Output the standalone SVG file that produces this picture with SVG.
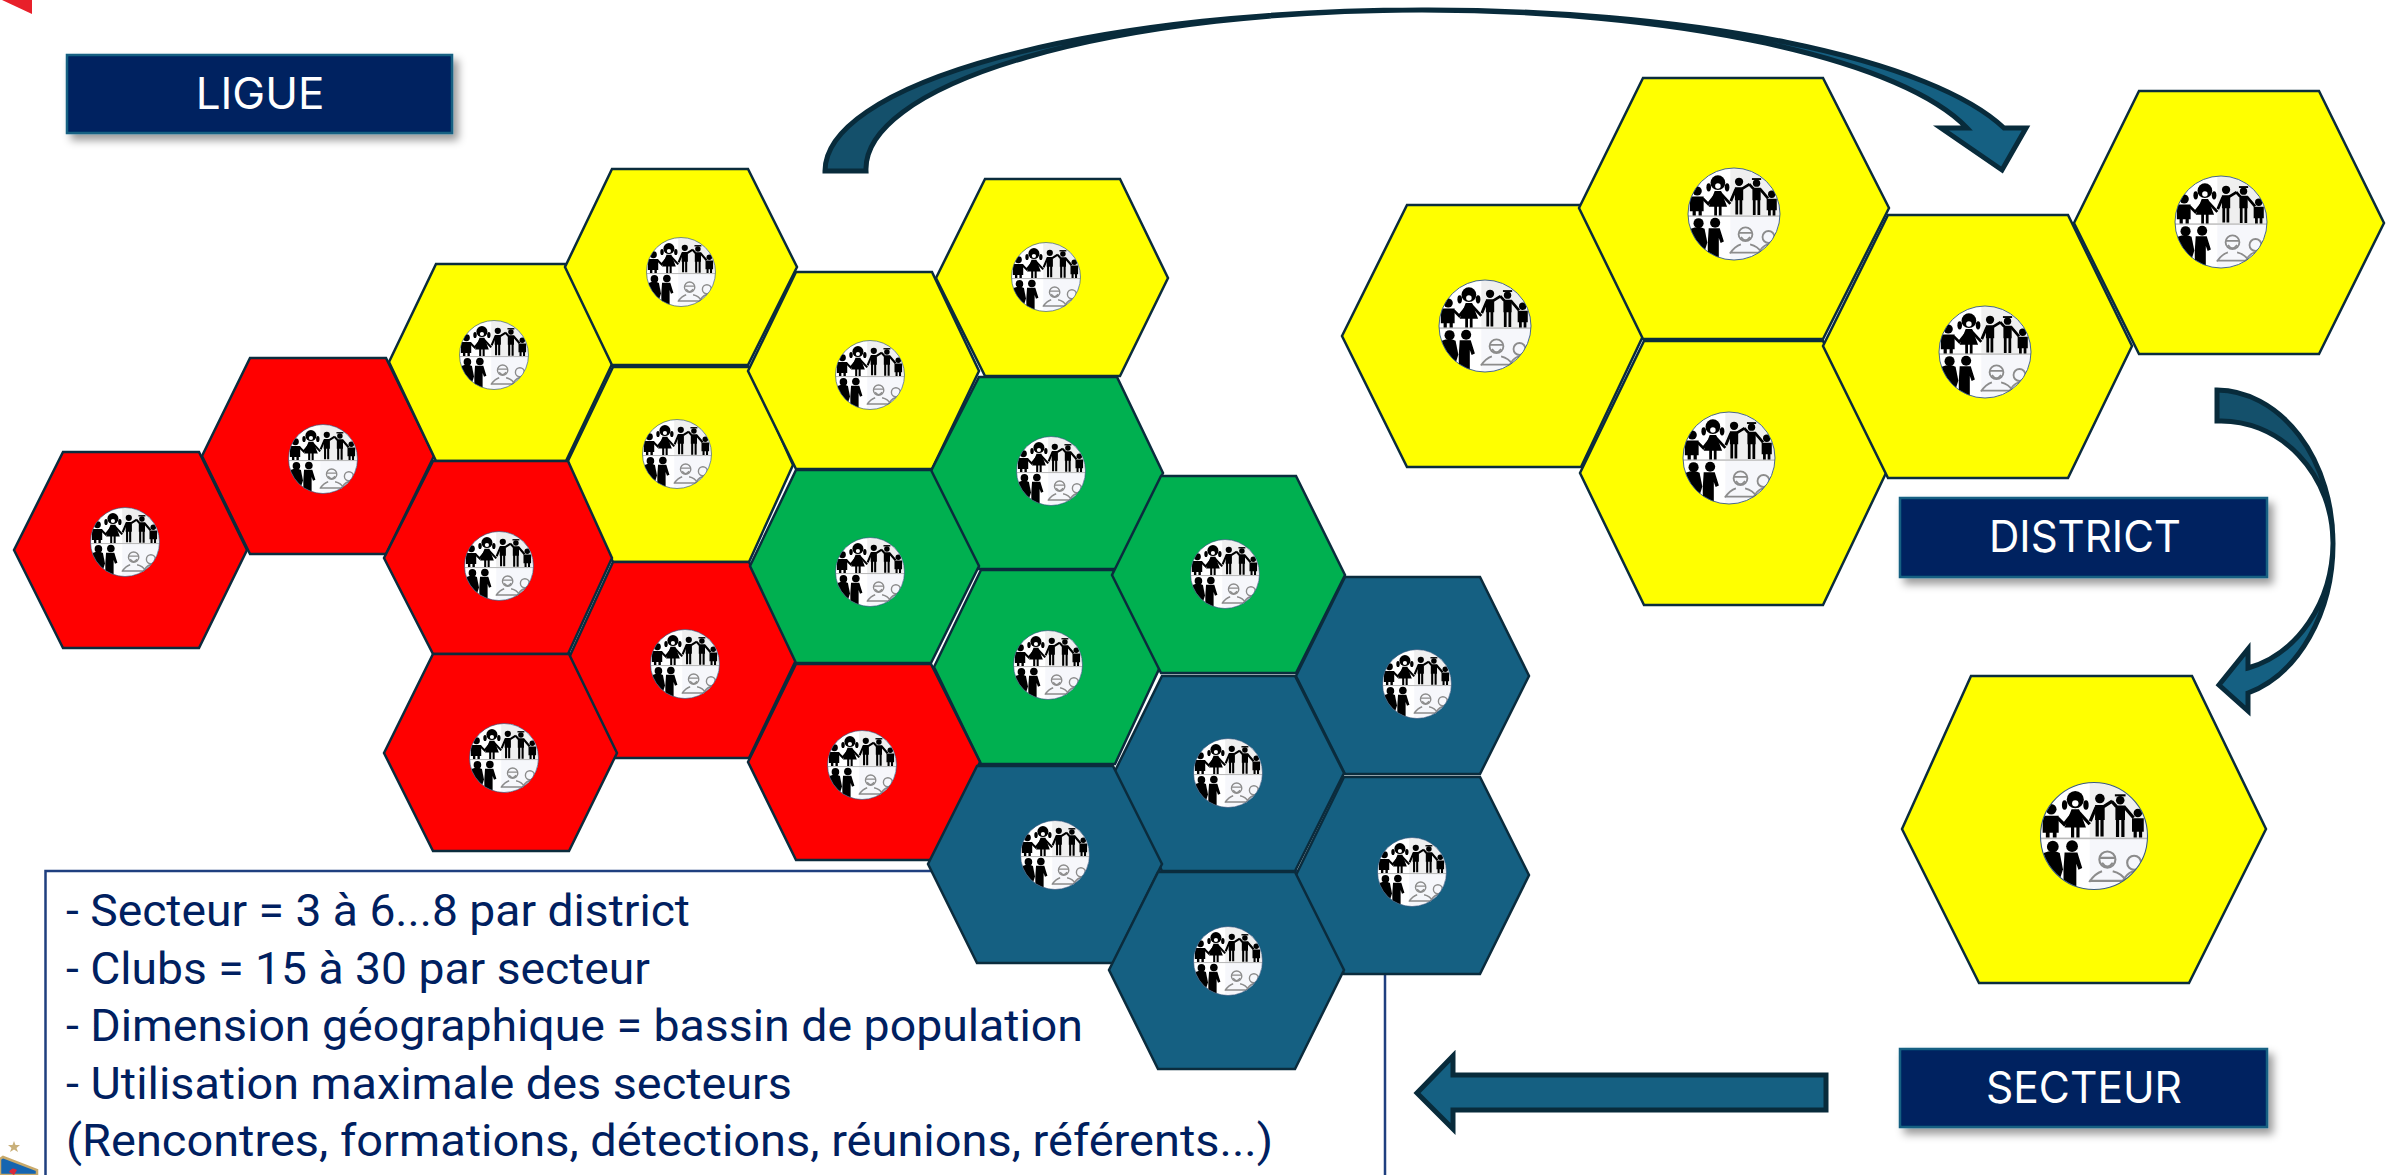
<svg xmlns="http://www.w3.org/2000/svg" width="2394" height="1175" viewBox="0 0 2394 1175">
<style>
.hex{stroke:#0b2c3d;stroke-width:2.500;stroke-linejoin:miter}
.r{fill:#ff0000}.y{fill:#ffff00}.g{fill:#00b050}.b{fill:#156082}
.lab{fill:#002060;stroke:#156082;stroke-width:2.500;filter:url(#sh)}
.lt{font-family:Inter,"Liberation Sans",sans-serif;font-size:44px;fill:#fff;text-anchor:middle}
.body{font-family:Roboto,"Liberation Sans",sans-serif;font-size:45px;fill:#002060}
.arr{stroke:#082b3b;stroke-width:5;stroke-linejoin:miter}
.k{fill:#000}.kl{stroke:#000;stroke-width:6;fill:none}
.gl{stroke:#8c8c8c;stroke-width:4;fill:none}
</style>
<defs>
<filter id="sh" x="-10%" y="-20%" width="125%" height="150%"><feDropShadow dx="5" dy="6" stdDeviation="4" flood-color="#000" flood-opacity="0.4"/></filter>
<clipPath id="c"><circle r="100"/></clipPath>
<g id="icon">
<g clip-path="url(#c)">
<rect x="-100" y="-100" width="200" height="200" fill="#fff"/>
<rect x="-8" y="-100" width="108" height="103" fill="#efefef"/>
<rect x="-8" y="6" width="108" height="94" fill="#f6f7fb"/>
<rect x="-100" y="3" width="200" height="3" fill="#b9b9b9"/>
<circle class="k" cx="-80" cy="-50" r="10"/>
<path class="k" d="M-96,-38H-66V-6H-70V3H-77V-6H-83V3H-90V-6H-96Z"/>
<path class="kl" d="M-68,-34L-56,-22L-40,-42"/>
<circle class="k" cx="-35" cy="-68" r="16"/>
<ellipse cx="-35" cy="-61" rx="6" ry="6" fill="#fff"/>
<ellipse class="k" cx="-55" cy="-58" rx="5" ry="9"/>
<ellipse class="k" cx="-15" cy="-58" rx="5" ry="9"/>
<path class="k" d="M-42,-50H-28L-15,-16H-27V3H-33V-16H-37V3H-43V-16H-55Z"/>
<path class="kl" d="M-30,-46L-8,-22"/>
<circle class="k" cx="11" cy="-70" r="9"/>
<path class="k" d="M2,-58H20V-30H18V1H12V-30H9V1H3V-30H2Z"/>
<path class="kl" d="M4,-54L-7,-28M18,-55L34,-65"/>
<circle class="k" cx="49" cy="-67" r="8"/>
<rect class="k" x="39" y="-78" width="20" height="4"/>
<path class="k" d="M40,-57H58V-30H57V2H51V-30H47V2H41V-30H40Z"/>
<path class="kl" d="M42,-55L33,-65M56,-55L74,-34"/>
<circle class="k" cx="82" cy="-43" r="8"/>
<path class="k" d="M71,-33H93V-8H90V3H84V-8H80V3H74V-8H71Z"/>
<circle class="k" cx="-77" cy="20" r="11"/>
<path class="k" d="M-94,32Q-77,24 -64,32L-58,62L-66,88L-82,84L-88,64Z"/>
<circle class="k" cx="-41" cy="19" r="11"/>
<path class="k" d="M-55,31H-31L-22,60L-29,63L-33,52V100H-57V62Z"/>
<circle class="gl" cx="25" cy="44" r="15"/>
<path class="gl" d="M11,41H39M15,50Q25,64 35,50M-9,86Q2,70 15,66M35,66Q52,70 60,84H-9"/>
<circle class="gl" cx="75" cy="50" r="13"/>
<path class="gl" d="M52,88Q60,70 73,66Q88,66 96,74"/>
</g>
<circle r="100" fill="none" stroke="#3a5a80" stroke-width="2"/>
</g>
</defs>
<rect width="2394" height="1175" fill="#fff"/>
<polygon points="2,0 32,14 32,0" fill="#e8202a"/>
<g id="logo">
<polygon points="14,1141 15.500,1145 20,1145 16.500,1148 18,1152 14,1149.500 10,1152 11.500,1148 8,1145 12.500,1145" fill="#c9b07a"/>
<path d="M0,1159L3,1157L37,1170V1175H0Z" fill="#1565b0" stroke="#c8a96a" stroke-width="2.500"/>
<path d="M9,1172Q12,1166 17,1170L14,1175Z" fill="#d8283a"/>
</g>
<g id="info-box">
<path d="M45.500,1175V871H1385V1175" fill="none" stroke="#1f3f7f" stroke-width="2.500"/>
</g>
<g id="secteur-text" class="body">
<text x="66" y="926" textLength="624" lengthAdjust="spacingAndGlyphs">- Secteur = 3 à 6...8 par district</text>
<text x="66" y="984" textLength="584" lengthAdjust="spacingAndGlyphs">- Clubs = 15 à 30 par secteur</text>
<text x="66" y="1041" textLength="1017" lengthAdjust="spacingAndGlyphs">- Dimension géographique = bassin de population</text>
<text x="66" y="1099" textLength="726" lengthAdjust="spacingAndGlyphs">- Utilisation maximale des secteurs</text>
<text x="66" y="1156" textLength="1207" lengthAdjust="spacingAndGlyphs">(Rencontres, formations, détections, réunions, référents...)</text>
</g>
<g id="ligue-hexes">
<g id="r1"><polygon class="hex r" points="14,550 63,452 199,452 247,550 199,648 63,648"/><use href="#icon" transform="translate(125,542) scale(.345)"/></g>
<g id="r2"><polygon class="hex r" points="202,456 250,358 386,358 434,456 386,554 250,554"/><use href="#icon" transform="translate(323,459) scale(.345)"/></g>
<g id="y1"><polygon class="hex y" points="389,362 436,264 565,264 613,362 566,461 436,461"/><use href="#icon" transform="translate(494,355) scale(.345)"/></g>
<g id="y2"><polygon class="hex y" points="565,267 612,169 748,169 797,267 748,365 612,365"/><use href="#icon" transform="translate(681,272) scale(.345)"/></g>
<g id="y3"><polygon class="hex y" points="566,465 613,367 749,367 793,465 749,562 613,562"/><use href="#icon" transform="translate(677,454) scale(.345)"/></g>
<g id="r3"><polygon class="hex r" points="384,558 433,461 568,461 612,558 568,654 433,654"/><use href="#icon" transform="translate(499,566) scale(.345)"/></g>
<g id="r4"><polygon class="hex r" points="568,660 613,562 749,562 796,660 749,758 613,758"/><use href="#icon" transform="translate(685,664) scale(.345)"/></g>
<g id="r5"><polygon class="hex r" points="384,753 433,654 569,654 617,753 569,851 433,851"/><use href="#icon" transform="translate(504,758) scale(.345)"/></g>
<g id="y4"><polygon class="hex y" points="748,371 796,272 932,272 979,371 932,469 796,469"/><use href="#icon" transform="translate(870,375) scale(.345)"/></g>
<g id="y5"><polygon class="hex y" points="936,278 985,179 1120,179 1168,278 1120,376 985,376"/><use href="#icon" transform="translate(1046,277) scale(.345)"/></g>
<g id="g1"><polygon class="hex g" points="930,473 979,377 1117,377 1163,473 1117,569 979,569"/><use href="#icon" transform="translate(1051,471) scale(.345)"/></g>
<g id="g2"><polygon class="hex g" points="750,566 796,470 931,470 979,566 931,663 796,663"/><use href="#icon" transform="translate(870,572) scale(.345)"/></g>
<g id="g3"><polygon class="hex g" points="934,667 981,570 1113,570 1160,667 1115,764 981,764"/><use href="#icon" transform="translate(1048,665) scale(.345)"/></g>
<g id="g4"><polygon class="hex g" points="1112,575 1161,476 1296,476 1345,575 1296,673 1161,673"/><use href="#icon" transform="translate(1225,574) scale(.345)"/></g>
<g id="r6"><polygon class="hex r" points="748,762 796,664 931,664 980,762 931,860 796,860"/><use href="#icon" transform="translate(862,765) scale(.345)"/></g>
<g id="b1"><polygon class="hex b" points="1296,676 1345,577 1480,577 1529,676 1480,774 1345,774"/><use href="#icon" transform="translate(1417,684) scale(.345)"/></g>
<g id="b2"><polygon class="hex b" points="1114,773 1162,676 1295,676 1344,773 1295,871 1162,871"/><use href="#icon" transform="translate(1228,773) scale(.345)"/></g>
<g id="b3"><polygon class="hex b" points="928,864 977,766 1113,766 1162,864 1113,963 977,963"/><use href="#icon" transform="translate(1055,855) scale(.345)"/></g>
<g id="b4"><polygon class="hex b" points="1296,875 1344,777 1480,777 1529,875 1480,974 1344,974"/><use href="#icon" transform="translate(1412,872) scale(.345)"/></g>
<g id="b5"><polygon class="hex b" points="1109,970 1158,872 1295,872 1344,970 1295,1069 1158,1069"/><use href="#icon" transform="translate(1228,961) scale(.345)"/></g>
</g>
<g id="district-hexes">
<g id="d1"><polygon class="hex y" points="1342,336 1407,205 1581,205 1643,336 1581,467 1407,467"/><use href="#icon" transform="translate(1485,326) scale(.46)"/></g>
<g id="d2"><polygon class="hex y" points="1579,208 1643,78 1823,78 1889,208 1823,339 1643,339"/><use href="#icon" transform="translate(1734,214) scale(.46)"/></g>
<g id="d3"><polygon class="hex y" points="1580,473 1644,341 1823,341 1886,473 1823,605 1644,605"/><use href="#icon" transform="translate(1729,458) scale(.46)"/></g>
<g id="d4"><polygon class="hex y" points="1823,346 1888,215 2068,215 2132,346 2068,478 1888,478"/><use href="#icon" transform="translate(1985,352) scale(.46)"/></g>
<g id="d5"><polygon class="hex y" points="2074,223 2139,91 2319,91 2384,223 2319,354 2139,354"/><use href="#icon" transform="translate(2221,222) scale(.46)"/></g>
</g>
<g id="secteur-hex"><polygon class="hex y" points="1902,829 1971,676 2192,676 2266,829 2189,983 1979,983"/><use href="#icon" transform="translate(2094,836) scale(.535)"/></g>
<g id="ligue"><rect class="lab" x="67" y="55" width="385" height="78"/><text class="lt" x="260" y="109">LIGUE</text></g>
<g id="district"><rect class="lab" x="1900" y="498" width="367" height="79"/><text class="lt" x="2085" y="552" textLength="192" lengthAdjust="spacingAndGlyphs">DISTRICT</text></g>
<g id="secteur"><rect class="lab" x="1900" y="1049" width="367" height="78"/><text class="lt" x="2084" y="1103" textLength="196" lengthAdjust="spacingAndGlyphs">SECTEUR</text></g>
<g id="connectors">
<path class="arr" fill="#14506b" d="M825,171A597,161 0 0 1 1422,10A556,159 0 0 0 866,171Z"/>
<path class="arr" fill="#156082" d="M1422,10A599,163 0 0 1 2004,128L2026,128L2002,170L1941,128L1967,128A567,159 0 0 0 1422,10Z"/>
<path class="arr" fill="#14506b" d="M2217,390A117,153 0 0 1 2333,543A112,122 0 0 0 2217,421Z"/>
<path class="arr" fill="#156082" d="M2333,543A117,155 0 0 1 2248,693L2248,711L2219,685L2248,649L2248,668A112,130 0 0 0 2333,543Z"/>
<path class="arr" fill="#156082" d="M1826,1075V1110H1453V1129L1417,1093L1453,1056V1075Z"/>
</g>
</svg>
